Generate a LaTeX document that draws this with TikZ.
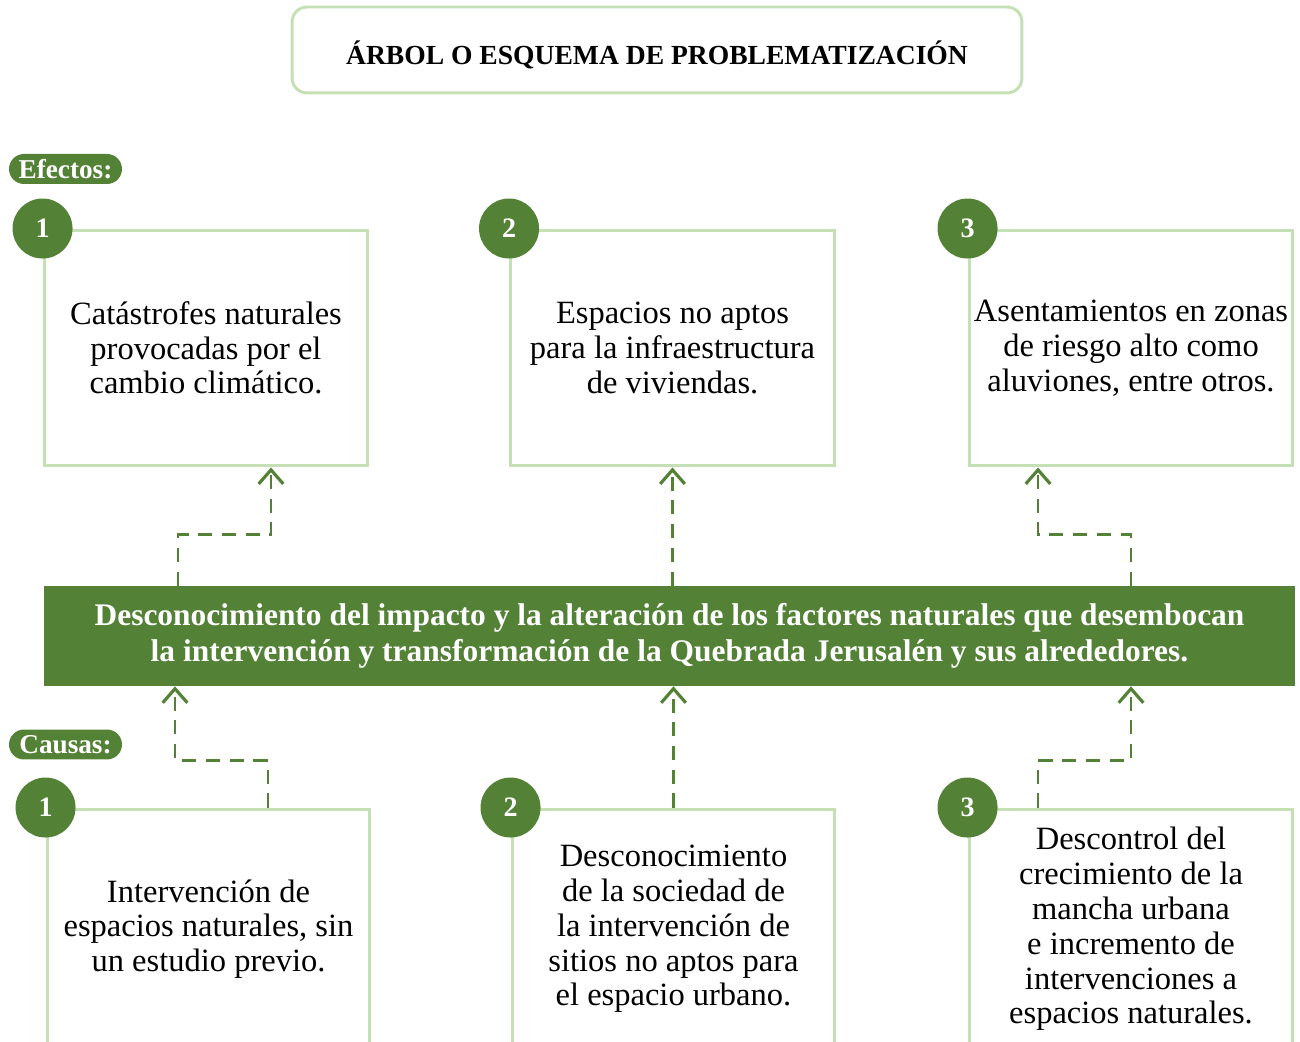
\documentclass[tikz,border=0pt]{standalone}
\usepackage{fontspec}
\setmainfont{Liberation Serif}
\usepackage{tikz}
\usetikzlibrary{arrows.meta}

\definecolor{verdeosc}{HTML}{538135}
\definecolor{verdecla}{HTML}{C5E0B4}

\begin{document}
\begin{tikzpicture}[x=0.02cm, y=0.02cm,
  caja/.style={draw=verdecla, line width=1.7pt, minimum width=6.48cm, minimum height=4.72cm,
    align=center, inner sep=0pt, font=\fontsize{18.5}{19.8}\selectfont},
  num/.style={circle, fill=verdeosc, text=white, minimum size=1.2cm, inner sep=0pt,
    font=\bfseries\fontsize{16}{18}\selectfont},
  etiqueta/.style={rounded corners=0.3cm, fill=verdeosc, text=white, minimum width=2.26cm,
    minimum height=0.6cm, inner sep=0pt, font=\bfseries\fontsize{15.5}{16}\selectfont},
  flecha/.style={draw=verdeosc, line width=1.6pt, dash pattern=on 8pt off 5.5pt,
    -{Straight Barb[length=8pt, width=14pt, line width=1.8pt]}}
]
\useasboundingbox (0,0) rectangle (1300,1041);

% titulo
\node[draw=verdecla, line width=1.7pt, rounded corners=0.3cm, minimum width=14.6cm,
  minimum height=1.72cm, text height=17pt, text depth=0pt,
  font=\bfseries\fontsize{15.7}{18}\selectfont] (titulo) at (657,991)
  {ÁRBOL O ESQUEMA DE PROBLEMATIZACIÓN};

\node[etiqueta] (efectos) at (65.5,872) {Efectos:};
\node[etiqueta] (causas) at (65.5,296.5) {Causas:};

% efectos
\node[caja] (ef1) at (206,693) {Catástrofes naturales\\provocadas por el\\cambio climático.};
\node[caja] (ef2) at (672.5,693) {Espacios no aptos\\para la infraestructura\\de viviendas.};
\node[caja] (ef3) at (1131,693) {Asentamientos en zonas\\de riesgo alto como\\aluviones, entre otros.};

\node[num] at (ef1.north west) {1};
\node[num] at (ef2.north west) {2};
\node[num] at (ef3.north west) {3};

% problema central
\node[fill=verdeosc, text=white, minimum width=25.02cm, minimum height=2cm, align=center,
  inner sep=0pt, font=\bfseries\fontsize{17.9}{20.4}\selectfont] (problema) at (669.5,405)
  {Desconocimiento del impacto y la alteración de los factores naturales que desembocan\\
   la intervención y transformación de la Quebrada Jerusalén y sus alrededores.};

% causas
\node[caja, minimum width=6.46cm, minimum height=4.8cm] (ca1) at (208.5,112)
  {Intervención de\\espacios naturales, sin\\un estudio previo.};
\node[caja, minimum width=6.46cm, minimum height=4.8cm] (ca2) at (673.5,112)
  {Desconocimiento\\de la sociedad de\\la intervención de\\sitios no aptos para\\el espacio urbano.};
\node[caja, minimum width=6.48cm, minimum height=4.8cm] (ca3) at (1131,112)
  {Descontrol del\\crecimiento de la\\mancha urbana\\e incremento de\\intervenciones a\\espacios naturales.};

\node[num] at (ca1.north west) {1};
\node[num] at (ca2.north west) {2};
\node[num] at (ca3.north west) {3};

% flechas
\draw[flecha] ([xshift=-0.56cm]problema.north -| ef1.south) -- ++(0,51) -| ([xshift=1.3cm]ef1.south);
\draw[flecha] (problema.north -| ef2.south) -- (ef2.south);
\draw[flecha] (problema.north -| ef3.south) -- ++(0,51) -| ([xshift=-1.86cm]ef3.south);

\draw[flecha] ([xshift=1.19cm]ca1.north) -- ++(0,47) -| ([xshift=-0.67cm]problema.south -| ca1.north);
\draw[flecha] (ca2.north) -- (problema.south -| ca2.north);
\draw[flecha] ([xshift=-1.86cm]ca3.north) -- ++(0,47) -| (problema.south -| ca3.north);
\end{tikzpicture}
\end{document}
